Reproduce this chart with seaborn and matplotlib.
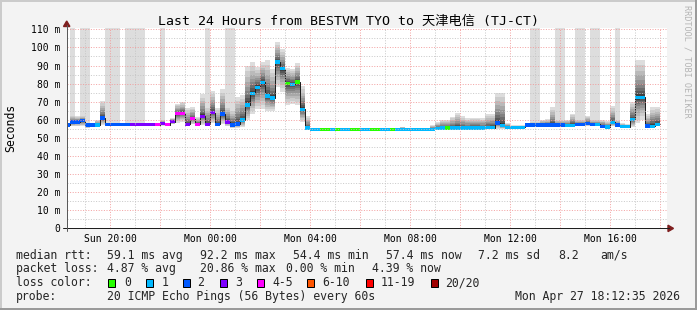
import numpy as np
import pandas as pd
import matplotlib
matplotlib.use("Agg")
import matplotlib.pyplot as plt
import seaborn as sns
from matplotlib.patches import Rectangle, Polygon
from matplotlib.lines import Line2D
from matplotlib.ticker import FixedLocator, MultipleLocator

# ------------------------------------------------------------------ data
# 12-minute consolidated bins, first bin starts Sun 18:12 (hours rel. to Mon 00:00)
bin_hours = 0.2
first_bin = -5.8

median_ms = [
    57.1, 58.8, 58.8, 59.5, 57.1, 57.1, 57.1, 61.0, 57.3, 57.3,
    57.3, 57.3, 57.3, 57.3, 57.3, 57.3, 57.3, 57.3, 57.3, 57.8,
    57.3, 59.0, 63.3, 63.6, 57.5, 60.6, 57.5, 62.0, 57.5, 64.0,
    57.5, 63.2, 58.8, 57.1, 57.7, 59.9, 68.2, 74.6, 78.0, 80.7,
    73.1, 72.0, 92.0, 88.2, 80.2, 79.6, 80.9, 65.8, 55.5, 54.7,
    54.7, 54.7, 54.7, 54.7, 54.7, 54.7, 54.7, 54.7, 54.7, 54.7,
    54.7, 54.7, 54.7, 54.7, 54.7, 54.7, 54.7, 54.7, 54.7, 54.7,
    54.7, 54.7, 54.7, 54.7, 55.0, 55.5, 55.5, 55.5, 55.5, 55.5,
    55.5, 55.5, 55.5, 55.5, 55.6, 55.6, 58.2, 56.7, 55.8, 55.8,
    55.8, 55.8, 57.1, 57.1, 57.1, 57.1, 57.1, 57.1, 57.1, 57.1,
    57.0, 57.0, 57.5, 57.5, 57.8, 57.5, 57.5, 56.5, 56.0, 58.6,
    57.1, 56.2, 56.2, 60.2, 72.5, 72.5, 56.6, 56.5, 57.6,
]

loss_cnt = [
    2, 2, 2, 2, 2, 2, 1, 2, 2, 2,
    2, 2, 2, 3, 3, 3, 3, 3, 4, 3,
    4, 3, 4, 4, 3, 4, 4, 3, 3, 3,
    2, 2, 3, 2, 2, 1, 1, 1, 1, 1,
    1, 1, 1, 1, 0, 1, 0, 1, 1, 1,
    1, 0, 0, 1, 0, 1, 1, 0, 0, 1,
    1, 0, 0, 1, 1, 0, 1, 1, 1, 1,
    1, 1, 1, 1, 1, 1, 0, 1, 1, 1,
    1, 1, 1, 1, 1, 1, 2, 1, 1, 1,
    1, 1, 2, 2, 2, 2, 2, 2, 2, 2,
    1, 1, 2, 2, 2, 2, 1, 2, 1, 1,
    2, 1, 1, 1, 1, 1, 2, 1, 1,
]

smoke_hi = [
    58.0, 62.5, 62.0, 62.5, 58.5, 58.5, 60.0, 70.5, 58.5, 58.0,
    58.0, 58.0, 58.0, 58.0, 58.0, 58.0, 58.0, 58.0, 58.0, 60.0,
    58.0, 61.0, 69.0, 70.0, 66.5, 67.0, 61.7, 74.0, 68.0, 76.0,
    66.5, 77.0, 68.0, 66.0, 72.8, 73.7, 90.0, 92.0, 89.0, 92.0,
    93.0, 88.0, 102.8, 99.0, 88.6, 88.0, 91.5, 78.7, 62.0, 55.5,
    55.3, 55.3, 55.3, 55.3, 55.3, 55.3, 55.3, 55.3, 55.3, 55.3,
    55.3, 55.3, 55.3, 55.3, 55.3, 55.3, 55.3, 56.2, 55.3, 55.3,
    55.3, 55.3, 55.3, 57.1, 59.0, 59.9, 59.9, 61.7, 64.0, 62.0,
    60.8, 61.2, 61.0, 60.8, 63.0, 63.3, 75.0, 75.0, 58.3, 57.0,
    57.0, 57.0, 58.5, 59.0, 59.0, 59.9, 60.4, 67.0, 60.0, 60.0,
    60.0, 63.3, 60.0, 60.0, 62.0, 60.0, 60.0, 60.0, 59.3, 67.6,
    60.0, 58.0, 57.5, 70.0, 93.0, 93.0, 63.0, 67.0, 67.2,
]

smoke_lo = [
    56.5, 56.3, 56.5, 56.5, 55.5, 55.8, 56.3, 57.0, 56.6, 56.6,
    56.6, 56.6, 56.6, 56.6, 56.6, 56.6, 56.6, 56.6, 56.6, 56.8,
    56.6, 57.5, 58.5, 59.0, 56.5, 57.5, 56.5, 57.0, 56.5, 58.0,
    56.5, 57.5, 56.5, 55.5, 55.5, 56.0, 60.0, 63.0, 66.0, 66.0,
    65.0, 65.0, 78.0, 75.5, 68.0, 69.0, 68.0, 59.0, 54.5, 54.2,
    54.2, 54.2, 54.2, 54.2, 54.2, 54.2, 54.2, 54.2, 54.2, 54.2,
    54.2, 54.2, 54.2, 54.2, 54.2, 54.2, 54.2, 54.2, 54.2, 54.2,
    54.2, 54.2, 54.2, 54.2, 54.4, 55.0, 55.0, 55.0, 55.0, 55.0,
    55.0, 55.0, 55.0, 55.0, 55.0, 55.0, 55.0, 55.0, 55.0, 55.3,
    55.3, 55.3, 56.0, 56.0, 56.0, 56.0, 56.0, 56.0, 56.0, 56.0,
    56.0, 56.0, 56.5, 56.5, 56.5, 56.5, 56.5, 55.5, 55.0, 56.5,
    56.0, 55.2, 55.2, 56.0, 58.0, 60.0, 55.5, 55.5, 56.5,
]

# bins whose slowest ping went off the top of the graph
overflow_bins = [1, 3, 4, 8, 9, 10, 12, 13, 14, 15, 19, 28, 32, 33,
                 93, 94, 98, 99, 102, 103, 105, 106, 110]

loss_labels = ["0", "1", "2", "3", "4-5", "6-10", "11-19", "20/20"]
loss_upper = [0, 1, 2, 3, 5, 10, 19, 20]
loss_colors = ["#26ff00", "#00b8ff", "#0059ff", "#7e00ff", "#ff00ff",
               "#ff5500", "#ff0000", "#a00000"]

tick_hours = [-4, 0, 4, 8, 12, 16]
tick_labels = ["Sun 20:00", "Mon 00:00", "Mon 04:00", "Mon 08:00",
               "Mon 12:00", "Mon 16:00"]
y_major = list(range(0, 111, 10))
y_labels = ["0"] + [f"{v} m" for v in y_major[1:]]

title = "Last 24 Hours from BESTVM TYO to 天津电信 (TJ-CT)"
stat_rows = [
    [("median rtt:", 16), ("59.1 ms avg", 107.3), ("92.2 ms max", 200.3),
     ("54.4 ms min", 293.3), ("57.4 ms now", 386.3), ("7.2 ms sd", 478.5),
     ("8.2", 558.5), ("am/s", 600.3)],
    [("packet loss:", 16), ("4.87 % avg", 107.3), ("20.86 % max", 200.3),
     ("0.00 % min", 286.3), ("4.39 % now", 372.5)],
]
probe_text = "20 ICMP Echo Pings (56 Bytes) every 60s"
stamp_text = "Mon Apr 27 18:12:35 2026"

# ------------------------------------------------------------------ figure
W, H = 697, 310
sns.set_theme(style="white")
plt.rcParams["font.family"] = ["DejaVu Sans Mono", "Noto Sans CJK SC"]

fig = plt.figure(figsize=(W / 100, H / 100), dpi=100, facecolor="#f3f3f3")
PX = 0.72  # one pixel in points

def fp(x, y):
    return (x / W, 1 - y / H)

ax_l, ax_r, ax_t, ax_b = 67, 667, 28.4, 228.4
ax = fig.add_axes([ax_l / W, 1 - ax_b / H, (ax_r - ax_l) / W, (ax_b - ax_t) / H])
ax.set_facecolor("white")
for s in ax.spines.values():
    s.set_visible(False)

med = np.array(median_ms)
hi = np.array(smoke_hi)
lo = np.array(smoke_lo)
loss = np.array(loss_cnt)
t = first_bin + bin_hours * np.arange(len(med))
edges = np.append(t, t[-1] + bin_hours)

def stepv(a):
    return np.append(a, a[-1])

YTOP = 110.5

# overflow columns (light grey to the top)
ob = np.array(overflow_bins)
ax.bar(t[ob], YTOP - lo[ob], bottom=lo[ob], width=bin_hours, align="edge",
       color="#dddddd", linewidth=0, antialiased=False, zorder=0.9)

# smoke: nested bands, darkest next to the median
N = 10
for k in range(N, 0, -1):
    f = (k / N) ** 1.5
    up = med + (hi - med) * f
    dn = med - (med - lo) * f
    g = int(round(30 + (221 - 30) * ((k - 1) / (N - 1)) ** 0.8))
    ax.fill_between(edges, stepv(dn), stepv(up), step="post",
                    color=f"#{g:02x}{g:02x}{g:02x}", linewidth=0, zorder=1)

# median line
df = pd.DataFrame({"t": edges, "median": stepv(med)})
sns.lineplot(data=df, x="t", y="median", ax=ax, drawstyle="steps-post",
             color="#202020", linewidth=PX, estimator=None, sort=False, zorder=2)

# loss-coloured median bands
cls = np.array([next(j for j, u in enumerate(loss_upper) if c <= u) for c in loss])
w = 0.9
for j, col in enumerate(loss_colors):
    m = cls == j
    if m.any():
        ax.bar(t[m], 2 * w, bottom=med[m] - w, width=bin_hours, align="edge",
               color=col, linewidth=0, antialiased=False, zorder=2.2)

ax.set_xlim(-5.72, 18.28)
ax.set_ylim(0, YTOP)
ax.set_xlabel("")
ax.set_ylabel("")

ax.xaxis.set_major_locator(FixedLocator(np.arange(-4, 19, 2)))
ax.xaxis.set_minor_locator(MultipleLocator(1))
lab = dict(zip(tick_hours, tick_labels))
ax.set_xticklabels([lab.get(int(h), "") for h in np.arange(-4, 19, 2)])
ax.yaxis.set_major_locator(FixedLocator(y_major))
ax.yaxis.set_minor_locator(MultipleLocator(5))
ax.set_yticklabels(y_labels)

ax.set_axisbelow(False)
ax.grid(which="major", color="#f29a9a", linestyle=(0, (1.0, 1.6)),
        linewidth=PX, alpha=0.9)
ax.grid(which="minor", color="#c4c4c4", linestyle=(0, (1.0, 1.6)),
        linewidth=PX, alpha=0.9)

ax.tick_params(axis="x", which="major", direction="out", length=2.2, width=PX,
               color="#f08080", pad=1.6, labelsize=7, labelcolor="black")
ax.tick_params(axis="x", which="minor", direction="out", length=1.6, width=PX,
               color="#bbbbbb")
ax.tick_params(axis="y", which="major", direction="out", length=2.2, width=PX,
               color="#303030", pad=2.4, labelsize=7, labelcolor="black")
ax.tick_params(axis="y", which="minor", direction="out", length=1.4, width=PX,
               color="#aaaaaa")

# axes lines and arrows
fig.add_artist(Line2D(*zip(fp(62.5, ax_b), fp(669, ax_b)), color="#1f1f1f",
                      linewidth=PX, transform=fig.transFigure))
fig.add_artist(Line2D(*zip(fp(66.7, ax_b + 3), fp(66.7, 25)), color="#5a5a5a",
                      linewidth=PX, transform=fig.transFigure))
fig.add_artist(Polygon([fp(668, ax_b - 3.2), fp(673.5, ax_b), fp(668, ax_b + 3.2)],
                       closed=True, color="#7f1f1f", transform=fig.transFigure))
fig.add_artist(Polygon([fp(63.5, 26.5), fp(66.7, 21), fp(69.9, 26.5)],
                       closed=True, color="#7f1f1f", transform=fig.transFigure))

# frame
for (a, b, c) in [((0, 0.8), (W, 0.8), "#cbcbcb"), ((0.8, 0), (0.8, H), "#cbcbcb"),
                  ((0, H - 1.2), (W, H - 1.2), "#9a9a9a"),
                  ((W - 0.8, 0), (W - 0.8, H), "#9a9a9a")]:
    fig.add_artist(Line2D(*zip(fp(*a), fp(*b)), color=c, linewidth=2 * PX,
                          transform=fig.transFigure))

# texts
fig.text(*fp(348.5, 25.3), title, ha="center", va="baseline", fontsize=9.5,
         color="black")
fig.text(*fp(11, 127.5), "Seconds", rotation=90, ha="center", va="center",
         fontsize=8.3, color="black")
fig.text(*fp(687, 5), "RRDTOOL / TOBI OETIKER", rotation=270, ha="center",
         va="top", fontsize=6.1, color="#b4b4b4")

LEG = 8.3
base = [258.7, 272.4, 286.1, 299.9]
for row, yb in zip(stat_rows, base[:2]):
    for txt, x in row:
        fig.text(*fp(x, yb), txt, ha="left", va="baseline", fontsize=LEG)

fig.text(*fp(16, base[2]), "loss color:", ha="left", va="baseline", fontsize=LEG)
box_x = [108.3, 145.7, 182.7, 220.0, 256.9, 307.3, 365.9, 430.8]
lab_x = [124.0, 161.5, 197.5, 235.0, 272.3, 322.7, 380.7, 445.5]
for bx, lx, c, l in zip(box_x, lab_x, loss_colors, loss_labels):
    x0, y0 = fp(bx, 286.5)
    fig.add_artist(Rectangle((x0, y0), 7 / W, 8 / H, facecolor=c,
                             edgecolor="black", linewidth=PX,
                             transform=fig.transFigure))
    fig.text(*fp(lx, base[2]), l, ha="left", va="baseline", fontsize=LEG)

fig.text(*fp(16, base[3]), "probe:", ha="left", va="baseline", fontsize=LEG)
fig.text(*fp(107.3, base[3]), probe_text, ha="left", va="baseline", fontsize=LEG)
fig.text(*fp(680, base[3]), stamp_text, ha="right", va="baseline", fontsize=LEG)

fig.savefig("out.png", dpi=100, facecolor=fig.get_facecolor())
